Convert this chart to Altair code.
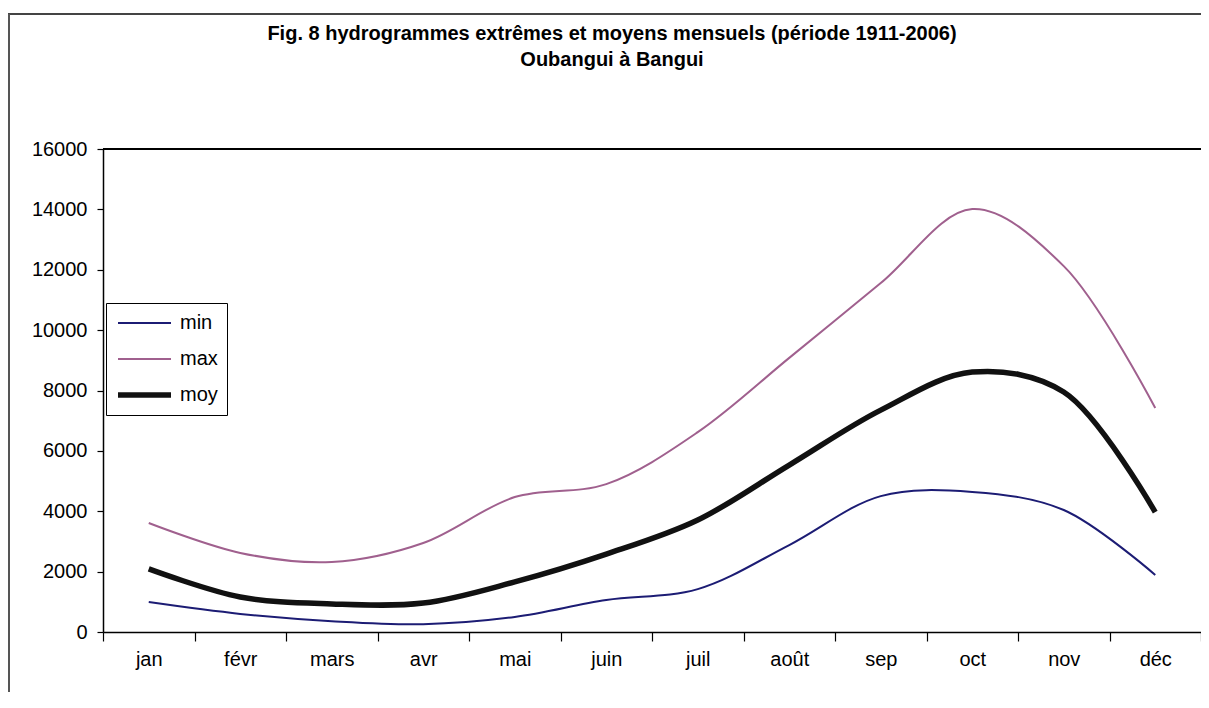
import altair as alt
import pandas as pd

months = ["jan", "févr", "mars", "avr", "mai", "juin", "juil", "août", "sep", "oct", "nov", "déc"]
series_names = ["min", "max", "moy"]
min_vals = [990, 600, 360, 260, 500, 1060, 1420, 2880, 4500, 4640, 4040, 1890]
max_vals = [3610, 2620, 2320, 2950, 4470, 4900, 6620, 9080, 11560, 14010, 12120, 7420]
moy_vals = [2090, 1160, 930, 960, 1660, 2580, 3710, 5530, 7350, 8610, 7950, 3970]
y_ticks = [0, 2000, 4000, 6000, 8000, 10000, 12000, 14000, 16000]
colors = ["#1c1c74", "#a0608e", "#111111"]
widths = [2, 2, 5.5]

title_lines = [
    "Fig. 8 hydrogrammes extrêmes et moyens mensuels (période 1911-2006)",
    "Oubangui à Bangui",
]

rows = []
for name, vals in zip(series_names, [min_vals, max_vals, moy_vals]):
    for m, v in zip(months, vals):
        rows.append({"mois": m, "serie": name, "debit": v})
df = pd.DataFrame(rows)

W = 1098
H = 483
FONT = "Liberation Sans"

legend = alt.Legend(
    title=None,
    orient="none",
    legendX=3,
    legendY=154,
    strokeColor="#000",
    fillColor="#fff",
    padding=9,
    rowPadding=14,
    clipHeight=22,
    symbolType="stroke",
    symbolSize=2809,
    labelFontSize=20,
    labelFont=FONT,
    labelColor="#000",
    labelOffset=6,
)

lines = alt.Chart(df).mark_line(interpolate="catmull-rom", clip=False).encode(
    x=alt.X(
        "mois:N",
        sort=months,
        bandPosition=0.5,
        scale=alt.Scale(type="band", paddingInner=0, paddingOuter=0),
        axis=alt.Axis(
            title=None,
            labelAngle=0,
            tickBand="extent",
            tickSize=9,
            labelPadding=8,
            labelFontSize=20,
            labelFont=FONT,
            labelColor="#000",
            domainColor="#000",
            domainWidth=1.5,
            tickColor="#000",
            tickWidth=1.2,
        ),
    ),
    y=alt.Y(
        "debit:Q",
        scale=alt.Scale(domain=[0, 16000], nice=False),
        axis=alt.Axis(
            title=None,
            values=y_ticks,
            grid=False,
            tickSize=6,
            labelPadding=10,
            labelFontSize=20,
            labelFont=FONT,
            labelColor="#000",
            domainColor="#000",
            domainWidth=1.5,
            tickColor="#000",
            tickWidth=1.2,
            format="d",
        ),
    ),
    color=alt.Color(
        "serie:O",
        sort=series_names,
        scale=alt.Scale(type="ordinal", domain=series_names, range=colors),
        legend=legend,
    ),
    strokeWidth=alt.StrokeWidth(
        "serie:O",
        sort=series_names,
        scale=alt.Scale(type="ordinal", domain=series_names, range=widths),
        legend=legend,
    ),
)

top_border = alt.Chart(df).mark_rule(color="#000", strokeWidth=1.5).encode(
    x=alt.value(0), x2=alt.value(W), y=alt.value(0)
)
frame_top = alt.Chart(df).mark_rule(color="#444", strokeWidth=2, clip=False).encode(
    x=alt.value(-95), x2=alt.value(W), y=alt.value(-135)
)
frame_left = alt.Chart(df).mark_rule(color="#555", strokeWidth=2, clip=False).encode(
    x=alt.value(-94), y=alt.value(-135), y2=alt.value(560)
)

chart = alt.layer(frame_top, frame_left, top_border, lines).properties(
    width=W,
    height=H,
    autosize=alt.AutoSizeParams(type="none"),
    padding={"left": 95, "top": 141, "right": 0, "bottom": 60},
    title=alt.TitleParams(
        text=title_lines,
        fontSize=20,
        font=FONT,
        fontWeight="bold",
        lineHeight=26,
        anchor="middle",
        frame="group",
        dx=-40,
        offset=-57,
        color="#000",
    ),
).configure_view(stroke=None).configure(background="#ffffff")

chart.save("out.html", embed_options={"renderer": "svg", "actions": False})
